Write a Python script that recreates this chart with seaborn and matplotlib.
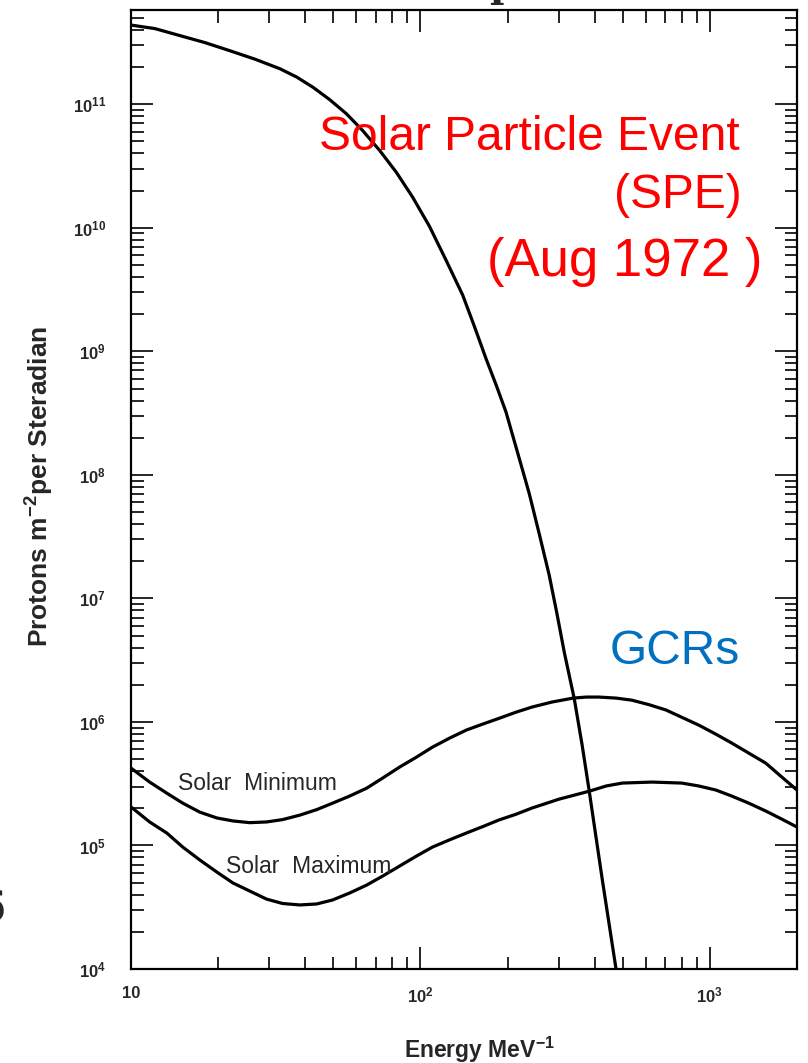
import numpy as np
import pandas as pd
import matplotlib
matplotlib.use("Agg")
import matplotlib.pyplot as plt
import seaborn as sns

# ---- data ----
spe_energy = [10, 12.1, 14.75, 18.0, 21.9, 26.8, 32.7, 37.4, 42.6, 48.6, 55.5, 63.1,
              72.3, 82.6, 94.0, 107.4, 122.7, 140, 153.5, 168.5, 182.8, 197.5, 216,
              237.5, 257, 278.6, 296.5, 314, 340, 362, 383, 424.6, 474]
spe_flux = [4.38e11, 4.10e11, 3.60e11, 3.16e11, 2.72e11, 2.32e11, 1.94e11, 1.66e11,
            1.37e11, 1.09e11, 8.38e10, 6.14e10, 4.23e10, 2.81e10, 1.77e10, 1.03e10,
            5.45e9, 2.85e9, 1.60e9, 8.73e8, 5.31e8, 3.23e8, 1.55e8, 7.10e7, 3.37e7,
            1.54e7, 7.45e6, 3.67e6, 1.54e6, 6.49e5, 2.75e5, 5.35e4, 1.0e4]

smin_energy = [10, 11.6, 13.3, 15.1, 17.3, 19.8, 22.5, 25.7, 29.4, 33.4,
               38.3, 43.8, 49.7, 56.9, 65.2, 74.0, 84.7, 96.9, 110, 126,
               144, 164, 187, 214, 243, 285, 337, 374, 414, 474,
               538, 616, 705, 800, 916, 1049, 1191, 1363, 1560, 1758, 2000]
smin_flux = [4.23e5, 3.26e5, 2.65e5, 2.20e5, 1.86e5, 1.67e5, 1.58e5, 1.53e5, 1.55e5, 1.62e5,
             1.76e5, 1.95e5, 2.20e5, 2.51e5, 2.91e5, 3.51e5, 4.31e5, 5.19e5, 6.25e5, 7.39e5,
             8.59e5, 9.60e5, 1.07e6, 1.20e6, 1.32e6, 1.45e6, 1.56e6, 1.59e6, 1.59e6, 1.56e6,
             1.50e6, 1.38e6, 1.25e6, 1.09e6, 9.42e5, 7.96e5, 6.74e5, 5.59e5, 4.64e5, 3.64e5,
             2.81e5]

smax_energy = [10, 11.6, 13.3, 15.1, 17.3, 19.8, 22.5, 25.7, 29.4, 33.4,
               38.3, 43.8, 49.7, 56.9, 65.2, 74.0, 84.7, 96.9, 110, 126,
               144, 164, 187, 214, 243, 301, 383, 438, 498, 631,
               800, 916, 1049, 1191, 1363, 1560, 1758, 2000]
smax_flux = [2.05e5, 1.55e5, 1.26e5, 9.70e4, 7.62e4, 6.09e4, 4.97e4, 4.28e4, 3.68e4, 3.39e4,
             3.30e4, 3.36e4, 3.62e4, 4.12e4, 4.78e4, 5.65e4, 6.81e4, 8.21e4, 9.70e4, 1.11e5,
             1.26e5, 1.42e5, 1.61e5, 1.79e5, 2.01e5, 2.37e5, 2.75e5, 3.03e5, 3.20e5, 3.26e5,
             3.20e5, 3.03e5, 2.81e5, 2.51e5, 2.20e5, 1.90e5, 1.65e5, 1.41e5]

x_ticks = [10, 100, 1000]
x_tick_labels = ["10", "$10^2$", "$10^3$"]
y_ticks = [1e4, 1e5, 1e6, 1e7, 1e8, 1e9, 1e10, 1e11]
y_tick_labels = ["$10^4$", "$10^5$", "$10^6$", "$10^7$", "$10^8$", "$10^9$",
                 "$10^{10}$", "$10^{11}$"]

df = pd.concat([
    pd.DataFrame({"energy": spe_energy, "flux": spe_flux, "curve": "SPE"}),
    pd.DataFrame({"energy": smin_energy, "flux": smin_flux, "curve": "Solar Minimum"}),
    pd.DataFrame({"energy": smax_energy, "flux": smax_flux, "curve": "Solar Maximum"}),
], ignore_index=True)

sns.set_theme(style="ticks")
plt.rcParams["font.family"] = ["Liberation Sans", "DejaVu Sans"]
plt.rcParams["mathtext.fontset"] = "custom"
plt.rcParams["mathtext.rm"] = "Liberation Sans:bold"
plt.rcParams["mathtext.it"] = "Liberation Sans:bold"
plt.rcParams["mathtext.bf"] = "Liberation Sans:bold"

W, H = 808, 1063
fig = plt.figure(figsize=(W / 100, H / 100), dpi=100)
ax = fig.add_axes([131 / W, 1 - 969 / H, (797 - 131) / W, (969 - 10) / H])

for name in ["SPE", "Solar Minimum", "Solar Maximum"]:
    sns.lineplot(data=df[df["curve"] == name], x="energy", y="flux", ax=ax,
                 color="black", linewidth=2.3, sort=False, estimator=None,
                 legend=False)

ax.set_xscale("log")
ax.set_yscale("log")
ax.set_xlim(10, 2000)
ax.set_ylim(1e4, 5.8e11)

ax.set_xticks(x_ticks, labels=x_tick_labels)
ax.set_yticks(y_ticks, labels=y_tick_labels)
ax.xaxis.set_minor_locator(matplotlib.ticker.LogLocator(base=10, subs=np.arange(2, 10)))
ax.yaxis.set_minor_locator(matplotlib.ticker.LogLocator(base=10, subs=np.arange(2, 10), numticks=20))
ax.xaxis.set_minor_formatter(matplotlib.ticker.NullFormatter())
ax.yaxis.set_minor_formatter(matplotlib.ticker.NullFormatter())

ax.tick_params(which="both", direction="in", top=True, right=True, color="black")
ax.tick_params(which="major", length=16, width=1.2, labelsize=12)
ax.tick_params(which="minor", length=9, width=1.2)
ax.tick_params(axis="y", which="major", pad=18)
ax.tick_params(axis="x", which="major", pad=12)
for lab in ax.get_xticklabels() + ax.get_yticklabels():
    lab.set_fontweight("bold")
for s in ax.spines.values():
    s.set_linewidth(1.6)
    s.set_color("black")

ax.set_xlabel("Energy MeV$^{-1}$", fontsize=16.5, fontweight="bold")
ax.set_ylabel("Protons m$^{-2}$per Steradian", fontsize=19, fontweight="bold")
ax.xaxis.set_label_coords((480 - 131) / 666, (969 - 1050) / 959)
ax.yaxis.set_label_coords((40 - 131) / 666, 0.503)
ax.xaxis.label.set_va("center")
ax.yaxis.label.set_va("center")

ax.text(14.5, 3.2e5, "Solar  Minimum", fontsize=16.5, va="center", ha="left")
ax.text(21.3, 6.8e4, "Solar  Maximum", fontsize=16.5, va="center", ha="left")

red = "#FF0000"
fig.text(740 / W, 1 - 138 / H, "Solar Particle Event", color=red, fontsize=34.5,
         ha="right", va="center")
fig.text(742 / W, 1 - 196 / H, "(SPE)", color=red, fontsize=34.5,
         ha="right", va="center")
fig.text(762 / W, 1 - 262 / H, "(Aug 1972 )", color=red, fontsize=38,
         ha="right", va="center")
fig.text(610 / W, 1 - 652 / H, "GCRs", color="#0070C0", fontsize=34.5,
         ha="left", va="center")

# cropped remnants at the picture edges
fig.text(6 / W, 1 - 910 / H, "6", fontsize=30, family="DejaVu Serif",
         ha="right", va="center")
fig.text(503 / W, 1 + 3 / H, "p", fontsize=28, family="DejaVu Serif",
         fontweight="bold", ha="center", va="baseline")

fig.savefig("out.png", dpi=100)
